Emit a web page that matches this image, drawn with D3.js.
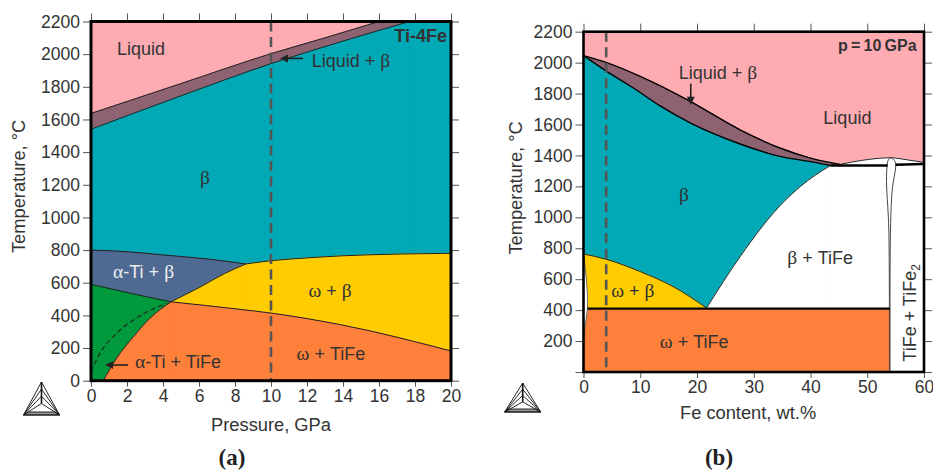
<!DOCTYPE html>
<html>
<head>
<meta charset="utf-8">
<script src="https://cdnjs.cloudflare.com/ajax/libs/d3/7.8.5/d3.min.js"></script>
<style>
  html, body { margin: 0; background: #fff; }
  text { font-family: "Liberation Sans", sans-serif; fill: #333; }
</style>
</head>
<body>
<svg id="chart" width="933" height="470"></svg>
<script>
// panel (a): boundaries, [pressure GPa, temperature C]
var aLiquidus = [[0,1637],[5,1820],[10,2003],[13,2100],[16,2200]];
var aLiquidusTop = [[16,2200],[20,2200]];
var aSolidus = [[0,1540],[5,1745],[10,1942],[14,2080],[17.7,2200]];
var aSolidusTop = [[17.7,2200],[20,2200]];
var aBetaLow = [[0,800],[2,790],[4,770],[6.5,745],[8.6,715]];
var aBetaRight = [[8.6,715],[10,735],[12,752],[14,765],[20,780]];
var aTransus = [[4.44,483],[6.05,573],[7.4,655],[8.6,715]];
var aAlphaLow = [[0,590],[2.17,536],[4.44,483]];
var aTiFeEdge = [[0.68,0],[1.43,139],[2.35,269],[3.28,383],[4.44,483]];
var aOmegaLow = [[4.44,483],[8.28,437],[10,414],[14,340],[20,182]];
var aMetastable = [[0,55],[0.5,169],[1.43,291],[2.7,396],[4.2,474]];

// panel (b): [Fe wt.%, temperature C]
var bLiquidus = [[0,2045],[4.08,2000],[10,1911],[18.8,1750],[27.6,1566],[34.6,1448],[40,1383],[45.2,1342]];
var bSolidus = [[0,2045],[4.08,1944],[8.8,1836],[13.5,1720],[18.8,1610],[27.6,1474],[34.6,1394],[40.5,1357],[43.5,1335]];
var bBetaEdge = [[21.7,414],[27.6,746],[34.6,1074],[38.2,1199],[43.5,1335]];
var bOmegaTop = [[0,763],[4,729],[10,649],[15.8,552],[21.7,414]];
var bLiquidRight = [[45.2,1342],[49,1368],[54.1,1385],[57,1372],[60,1355]];
var bEutectoid = [[0.7,410],[54,410]];
var bEutectoidLeft = [[0,410],[0.7,410]];
var bPeritectic = [[43.5,1335],[53.6,1335]];
var bPeritecticRight = [[55,1340],[60,1345]];
var bAlphaSliver = [[0,763],[0.45,620],[0.7,490],[0.7,410],[0.3,300],[0,200]];
var bTiFeStrip = [[53.9,0],[53.8,919],[53.4,1264],[53.7,1370],[54.1,1385],[54.6,1375],[55,1350],[54.4,1178],[54.1,919],[54,0]];

var aXTicks = d3.range(0, 21, 2);
var bXTicks = [0, 10, 20, 30, 40, 50, 60];
var aYTicks = d3.range(0, 2201, 200);
var bYTicks = d3.range(0, 2201, 200);

var pink = "#ffabb2", teal = "#00a9b5", mauve = "#8e6270", slate = "#4e6a93",
    green = "#009a3d", yellow = "#ffcc00", orange = "#ff803a";

var svg = d3.select("#chart");

function panel(o) {
  var x = d3.scaleLinear().domain(o.xDomain).range([o.left, o.right]);
  var y = d3.scaleLinear().domain([0, 2200]).range([o.bottom, o.top]);
  var g = svg.append("g");

  var area = d3.area().x(d => x(d[0])).y0(o.bottom).y1(d => y(d[1])).curve(d3.curveMonotoneX);
  var line = d3.line().x(d => x(d[0])).y(d => y(d[1])).curve(d3.curveMonotoneX);

  return {
    x: x, y: y, g: g, line: line,
    under: function (pts, color) {
      // same colour outline closes the seam between neighbouring pieces
      g.append("path").attr("d", area(pts)).attr("fill", color)
        .attr("stroke", color).attr("stroke-width", 0.7);
    },
    stroke: function (pts, w, dash, color) {
      g.append("path").attr("d", line(pts)).attr("fill", "none")
        .attr("stroke", color || "#222").attr("stroke-width", w || 1)
        .attr("stroke-dasharray", dash || null);
    },
    axes: function (frame) {
      var xa = d3.axisBottom(x).tickValues(o.xTicks).tickSize(6).tickPadding(3);
      var ya = d3.axisLeft(y).tickValues(o.yTicks).tickSize(8).tickPadding(3)
        .tickFormat(d => (o.hideZero && d === 0) ? "" : d);
      var xt = d3.axisTop(x).tickValues(o.xTicks).tickSize(8).tickFormat("");
      var yr = d3.axisRight(y).tickValues(o.yTicks).tickSize(8).tickFormat("");
      [[xa, 0, o.bottom], [ya, o.left, 0], [xt, 0, o.top], [yr, o.right, 0]].forEach(function (a) {
        var ag = g.append("g").attr("transform", "translate(" + a[1] + "," + a[2] + ")").call(a[0]);
        ag.select(".domain").remove();
        ag.selectAll("line").attr("stroke", "#555");
        ag.selectAll("text").attr("font-size", 17.5).attr("font-family", null);
      });
      g.append("rect").attr("x", o.left).attr("y", o.top)
        .attr("width", o.right - o.left).attr("height", o.bottom - o.top)
        .attr("fill", "none").attr("stroke", "#000").attr("stroke-width", frame);
    },
    dashed: function (v) {
      g.append("line").attr("x1", x(v)).attr("x2", x(v)).attr("y1", o.top).attr("y2", o.bottom)
        .attr("stroke", "#555").attr("stroke-width", 2.6).attr("stroke-dasharray", "10,5.5");
    },
    label: function (vx, vy, parts, opt) {
      opt = opt || {};
      var t = g.append("text").attr("x", x(vx)).attr("y", y(vy)).attr("dy", ".35em")
        .attr("text-anchor", opt.anchor || "middle").attr("font-size", opt.size || 18)
        .attr("font-weight", opt.bold ? "bold" : null);
      parts.forEach(function (p) {
        var s = t.append("tspan").text(p.replace(/^[~_]/, ""));
        if (p[0] === "~") s.attr("font-family", "Liberation Serif").attr("font-size", 19.5);
        if (p[0] === "_") s.attr("font-size", 12).attr("dy", 4);
      });
      if (opt.rotate) t.attr("transform", "rotate(-90," + x(vx) + "," + y(vy) + ")");
      return t;
    },
    arrow: function (p, q) {
      var ax = x(p[0]), ay = y(p[1]), bx = x(q[0]), by = y(q[1]);
      var len = Math.hypot(bx - ax, by - ay), ux = (bx - ax) / len, uy = (by - ay) / len;
      g.append("line").attr("x1", ax).attr("y1", ay).attr("x2", bx - ux * 5).attr("y2", by - uy * 5)
        .attr("stroke", "#222").attr("stroke-width", 1.6);
      g.append("path").attr("fill", "#222").attr("d",
        "M" + bx + "," + by +
        "L" + (bx - ux * 8 - uy * 4) + "," + (by - uy * 8 + ux * 4) +
        "L" + (bx - ux * 8 + uy * 4) + "," + (by - uy * 8 - ux * 4) + "Z");
    }
  };
}

function logo(cx, top, bottom, half) {
  var g = svg.append("g").attr("fill", "none").attr("stroke", "#111").attr("stroke-width", 0.9);
  var cy = bottom - (bottom - top) * 0.35;
  g.append("path").attr("d", "M" + (cx - half) + "," + bottom + "L" + (cx + half) + "," + bottom +
    "L" + (cx + half - 5) + "," + (bottom - 3) + "L" + (cx - half + 5) + "," + (bottom - 3) + "Z")
    .attr("fill", "#999");
  [0, 0.33, 0.66, 1].forEach(function (k) {
    var ay = top + (cy - top) * k;
    g.append("path").attr("d", "M" + (cx - half) + "," + bottom + "L" + cx + "," + ay + "L" + (cx + half) + "," + bottom);
  });
  g.append("path").attr("d", "M" + (cx - half) + "," + bottom + "L" + (cx + half) + "," + bottom);
  g.append("path").attr("d", "M" + cx + "," + top + "L" + cx + "," + cy).attr("stroke-width", 1.6);
}

// ---- panel a
var a = panel({ xDomain: [0, 20], left: 91, right: 451, top: 21.5, bottom: 380.7, xTicks: aXTicks, yTicks: aYTicks });
a.g.append("rect").attr("x", 91).attr("y", 21.5).attr("width", 360).attr("height", 359.2).attr("fill", pink);
a.under(aLiquidus, mauve);
a.under(aLiquidusTop, mauve);
a.under(aSolidus, teal);
a.under(aSolidusTop, teal);
a.under(aBetaLow, slate);
a.under(aTransus, yellow);
a.under(aBetaRight, yellow);
a.under(aAlphaLow, green);
a.under(aTiFeEdge, orange);
a.under(aOmegaLow, orange);
[aLiquidus, aSolidus, aBetaLow, aBetaRight, aTransus, aAlphaLow, aTiFeEdge, aOmegaLow].forEach(d => a.stroke(d, 1));
a.stroke(aMetastable, 1.1, "5,3");
a.dashed(10);
a.axes(3);
a.label(2.78, 2035, ["Liquid"]);
a.label(6.33, 1246, ["~β"]);
a.label(2.92, 665, ["~α", "-Ti + ", "~β"]).selectAll("tspan").style("fill", "#eee");
a.label(13.28, 549, ["~ω", " + ", "~β"]);
a.label(13.33, 163, ["~ω", " + TiFe"]);
a.label(4.83, 114, ["~α", "-Ti + TiFe"]);
a.label(14.44, 1961, ["Liquid + ", "~β"]);
a.label(19.78, 2114, ["Ti-4Fe"], { anchor: "end", bold: true, size: 18 });
a.arrow([2.06, 96], [0.78, 96]);
a.arrow([11.78, 1974], [10.5, 1974]);
a.label(10, -270, ["Pressure, GPa"], { size: 18.3 });
a.label(-4, 1190, ["Temperature, °C"], { rotate: true, size: 18.3 });
logo(41.5, 382, 415, 18);

// ---- panel b
var b = panel({ xDomain: [0, 60], left: 583.5, right: 924, top: 31.7, bottom: 372, xTicks: bXTicks, yTicks: bYTicks, hideZero: true });
b.g.append("rect").attr("x", 583.5).attr("y", 31.7).attr("width", 340.5).attr("height", 340.3).attr("fill", pink);
b.under(bLiquidus, mauve);
b.under(bSolidus, teal);
b.under(bBetaEdge, "#fff");
b.under(bOmegaTop, yellow);
b.under([[43.5, 1335], [45.2, 1335]], "#fff");
b.under(bLiquidRight, "#fff");
b.under(bEutectoidLeft, orange);
b.under(bEutectoid, orange);
b.g.append("path").attr("d", d3.line().x(d => b.x(d[0])).y(d => b.y(d[1])).curve(d3.curveCatmullRom)(bAlphaSliver))
  .attr("fill", "#fff").attr("stroke", "#666").attr("stroke-width", 1);
b.g.append("path").attr("d", d3.line().x(d => b.x(d[0])).y(d => b.y(d[1])).curve(d3.curveCatmullRom)(bTiFeStrip))
  .attr("fill", "#fff").attr("stroke", "#444").attr("stroke-width", 1);
[bLiquidus, bSolidus].forEach(d => b.stroke(d, 1.4, null, "#000"));
[bBetaEdge, bOmegaTop, bLiquidRight].forEach(d => b.stroke(d, 1));
b.stroke(bEutectoid, 2.4, null, "#000");
b.stroke(bPeritectic, 2.4, null, "#000");
b.stroke(bPeritecticRight, 2.4, null, "#000");
b.dashed(4);
b.axes(2.6);
b.label(23.7, 1935, ["Liquid + ", "~β"]);
b.label(46.5, 1644, ["Liquid"]);
b.label(17.7, 1146, ["~β"]);
b.label(41.7, 738, ["~β", " + TiFe"]);
b.label(8.7, 524, ["~ω", " + ", "~β"]);
b.label(19.5, 194, ["~ω", " + TiFe"]);
b.label(57.4, 382, ["TiFe + TiFe", "_2"], { rotate: true });
b.label(58.7, 2110, ["p\u2009=\u200910\u2009GPa"], { anchor: "end", bold: true, size: 16 });
b.arrow([18.9, 1864], [18.9, 1728]);
b.label(29, -265, ["Fe content, wt.%"], { size: 18.3 });
b.label(-12, 1190, ["Temperature, °C"], { rotate: true, size: 18.3 });
logo(522.7, 383, 412, 18);

// captions
[["(a)", 232], ["(b)", 719]].forEach(function (c) {
  svg.append("text").attr("x", c[1]).attr("y", 465).attr("text-anchor", "middle")
    .attr("font-size", 23).attr("font-weight", "bold")
    .style("font-family", "Liberation Serif").style("fill", "#222").text(c[0]);
});
</script>
</body>
</html>
